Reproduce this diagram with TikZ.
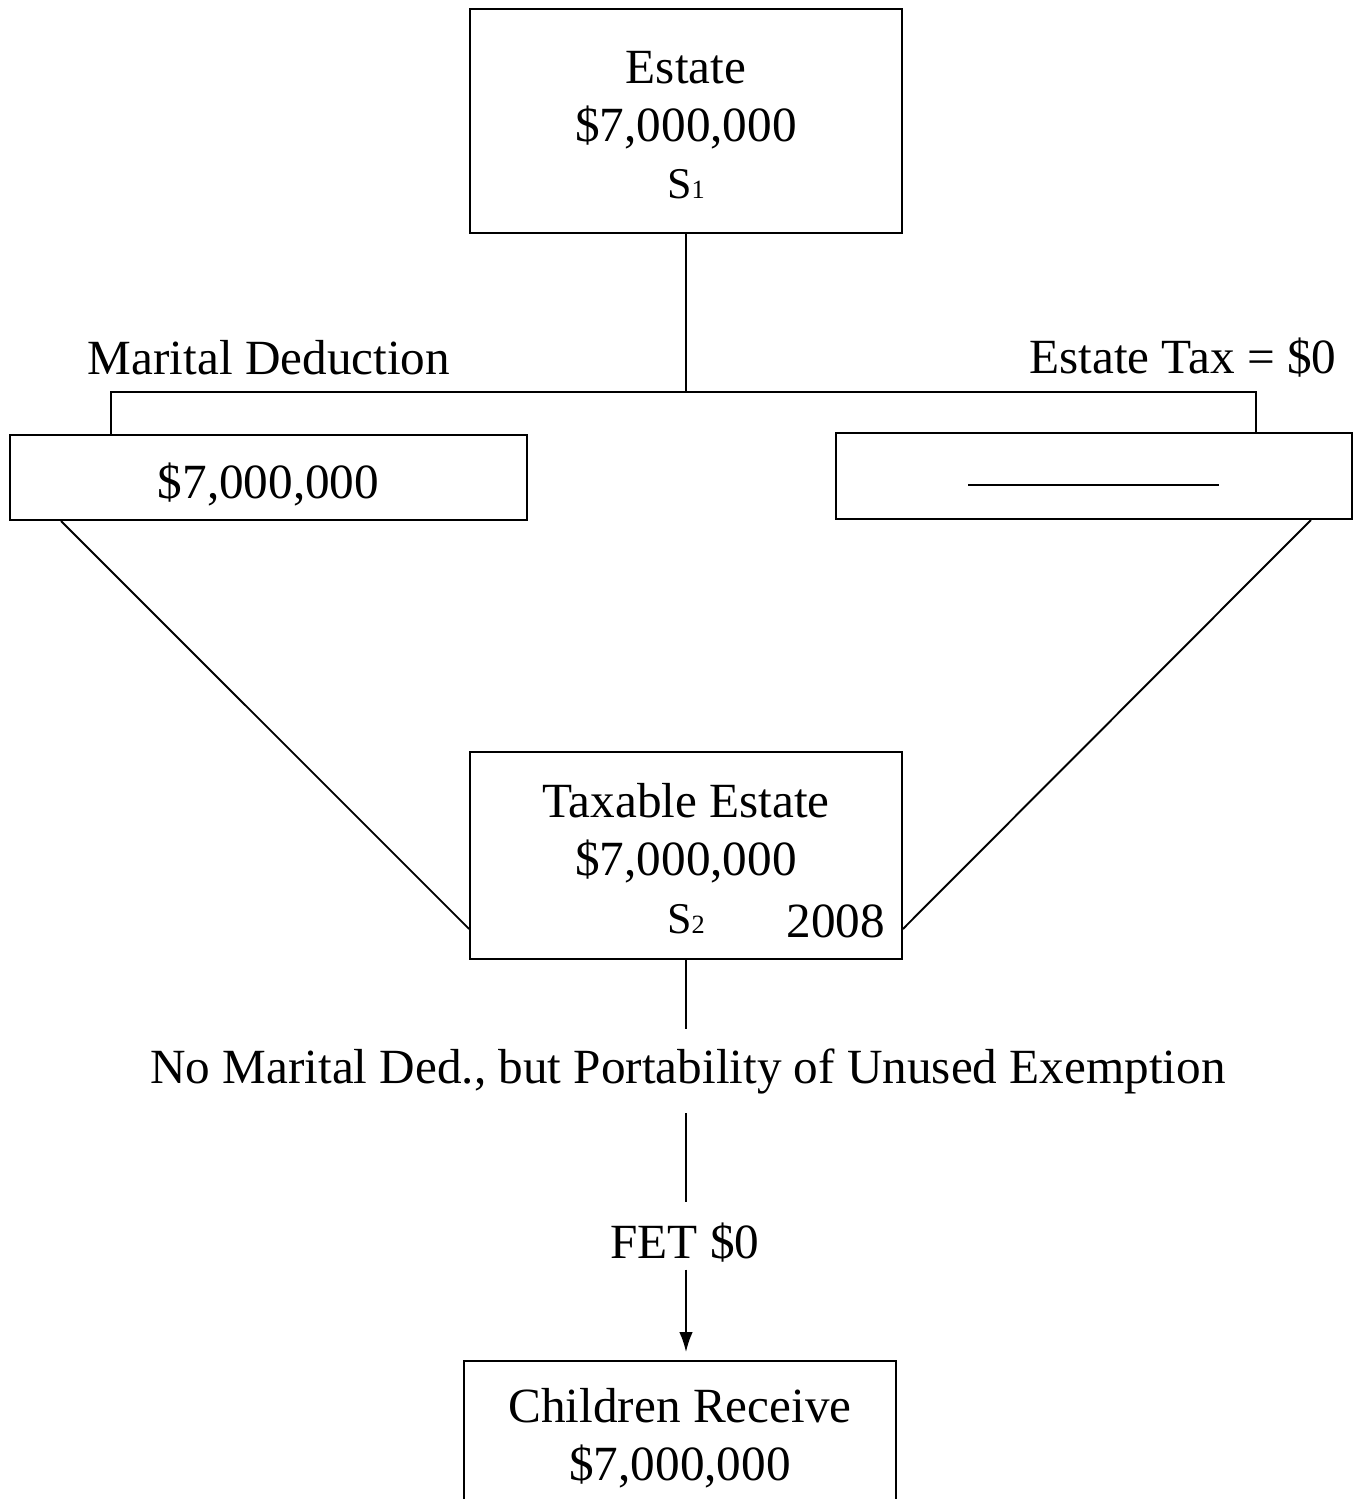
\documentclass[tikz,border=0pt]{standalone}
\usepackage{fontspec}
\setmainfont{Liberation Serif}
\usetikzlibrary{positioning,calc,arrows.meta}
\newcommand{\spousetag}[1]{{\fontsize{25}{33}\selectfont S}{\fontsize{15}{15}\selectfont #1}}

\begin{document}
\begin{tikzpicture}[x=0.02cm, y=-0.02cm, line width=1.1pt,
    box/.style={draw, align=center, inner sep=0pt, font=\fontsize{28}{33}\selectfont},
    lbl/.style={font=\fontsize{28}{33}\selectfont}]
    \useasboundingbox (0,0) rectangle (1358,1499);

    % First spouse
    \node [box, minimum width=8.64cm, minimum height=4.48cm, text height=89pt] (estate) at (686,121) {Estate\\\$7,000,000\\\spousetag{1}};
    \coordinate (fork) at (686,392);
    \coordinate (mdleg) at (111,392);
    \coordinate (etleg) at (1256,392);
    \draw (estate.south) -- (fork);

    % Split
    \node [lbl] (mdlabel) at (269,358) {Marital Deduction};
    \node [lbl] (etlabel) at (1183,358) {Estate Tax = \$0};
    \node [box, minimum width=10.34cm, minimum height=1.7cm, text height=24pt, text depth=0pt] (mdbox) at (268.5,477.5) {\$7,000,000};
    \node [box, minimum width=10.32cm, minimum height=1.72cm] (etbox) at (1094,476) {};
    \draw ($(etbox.center)+(-126,9)$) -- ($(etbox.center)+(125,9)$);
    \draw (mdbox.north -| mdleg) -- (mdleg) -- (etleg) -- (etbox.north -| etleg);

    % Second spouse
    \node [box, minimum width=8.64cm, minimum height=4.14cm, text height=88.5pt] (taxable) at (686,855.5) {Taxable Estate\\\$7,000,000\\\spousetag{2}};
    \node [lbl, anchor=base east, inner sep=0pt] (year) at (886,937) {2008};
    \draw ($(mdbox.south west)+(52,0)$) -- ($(taxable.south west)+(0,-31)$);
    \draw ($(etbox.south east)+(-42,0)$) -- ($(taxable.south east)+(0,-31)$);

    % Down to the children
    \node [lbl, inner ysep=10.5pt] (portab) at (688,1071) {No Marital Ded., but Portability of Unused Exemption};
    \node [lbl] (fet) at (685,1243) {FET \$0};
    \node [box, anchor=north, minimum width=8.64cm, inner ysep=0.54cm, text depth=4cm] (children) at (680,1360) {Children Receive\\\$7,000,000};
    \draw (taxable.south) -- (taxable.south |- portab.north);
    \draw [shorten >=8pt] (taxable.south |- portab.south) -- (taxable.south |- fet.north);
    \draw [-{Latex[length=0.4cm,width=0.27cm]}, shorten >=4.5pt] (taxable.south |- fet.south) -- (taxable.south |- children.north);
\end{tikzpicture}
\end{document}
